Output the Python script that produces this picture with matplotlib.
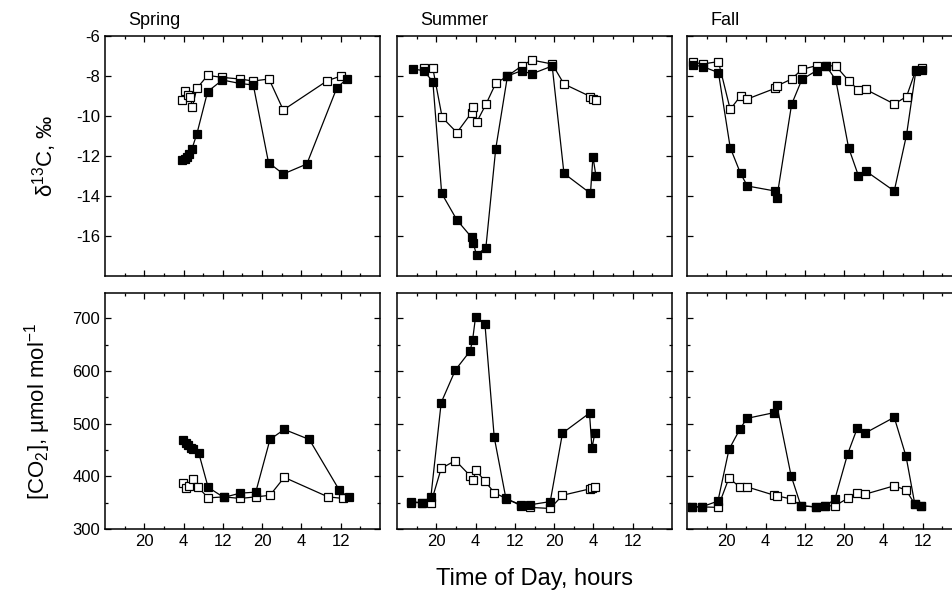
import matplotlib
matplotlib.use("Agg")
import matplotlib.pyplot as plt
from matplotlib.ticker import MultipleLocator, FixedLocator, FuncFormatter

plt.rcParams["font.family"] = ["Liberation Sans", "DejaVu Sans"]
plt.rcParams["mathtext.default"] = "regular"
plt.rcParams["axes.unicode_minus"] = False

# hours counted from midnight of day 0 (20 = 20:00 day 0, 28 = 4:00 day 1, ...)
seasons = ["Spring", "Summer", "Fall"]

# ---- delta 13C, permil ----
spring_d13c_open_t = [27.7, 28.3, 28.8, 29.3, 29.8, 30.7, 32.9, 35.9, 39.4, 42.2, 45.4, 48.3, 57.3, 60.1]
spring_d13c_open = [-9.2, -8.73, -8.95, -9.03, -9.53, -8.62, -7.97, -8.07, -8.15, -8.25, -8.15, -9.7, -8.23, -8.0]
spring_d13c_fill_t = [27.6, 28.2, 28.6, 29.2, 29.7, 30.7, 32.9, 35.9, 39.4, 42.2, 45.3, 48.3, 53.1, 59.2, 61.2]
spring_d13c_fill = [-12.2, -12.15, -12.03, -11.9, -11.65, -10.9, -8.78, -8.2, -8.37, -8.45, -12.33, -12.9, -12.4, -8.6, -8.15]

summer_d13c_open_t = [17.4, 19.3, 21.2, 24.2, 27.2, 27.5, 28.2, 30.1, 32.1, 34.5, 37.4, 39.4, 43.6, 46.0, 51.4, 51.9, 52.5]
summer_d13c_open = [-7.58, -7.62, -10.07, -10.83, -9.83, -9.53, -10.32, -9.42, -8.37, -8.0, -7.5, -7.2, -7.4, -8.4, -9.03, -9.17, -9.2]
summer_d13c_fill_t = [15.2, 17.4, 19.3, 21.1, 24.2, 27.2, 27.5, 28.2, 30.1, 32.1, 34.5, 37.4, 39.4, 43.6, 46.0, 51.4, 51.9, 52.5]
summer_d13c_fill = [-7.65, -7.73, -8.28, -13.87, -15.2, -16.07, -16.33, -16.95, -16.58, -11.65, -8.0, -7.73, -7.9, -7.5, -12.87, -13.87, -12.03, -12.98]

fall_t = [13.3, 15.2, 18.4, 20.8, 22.9, 24.3, 29.9, 30.3, 33.3, 35.4, 38.4, 40.3, 42.3, 44.9, 46.9, 48.4, 54.2, 56.7, 58.6, 59.8]
fall_d13c_open = [-7.32, -7.4, -7.28, -9.67, -9.0, -9.15, -8.62, -8.5, -8.15, -7.67, -7.48, -7.48, -7.5, -8.23, -8.7, -8.67, -9.4, -9.03, -7.7, -7.62]
fall_d13c_fill = [-7.45, -7.53, -7.83, -11.58, -12.87, -13.5, -13.75, -14.08, -9.42, -8.17, -7.73, -7.48, -8.2, -11.58, -12.98, -12.75, -13.75, -10.95, -7.75, -7.7]

# ---- CO2, umol/mol ----
spring_co2_open_t = [27.95, 28.4, 29.1, 30.0, 31.0, 33.0, 36.2, 39.5, 42.7, 45.6, 48.5, 57.4, 60.5]
spring_co2_open = [388, 377, 382, 395, 379, 359, 361, 358, 361, 364, 398, 361, 358]
spring_co2_fill_t = [27.95, 28.4, 29.0, 29.45, 30.0, 31.1, 33.0, 36.2, 39.5, 42.7, 45.6, 48.5, 53.6, 59.7, 61.6]
spring_co2_fill = [468, 464, 459, 453, 452, 444, 379, 360, 368, 370, 470, 489, 470, 374, 360]

summer_co2_t = [14.8, 17.0, 18.9, 21.0, 23.9, 26.9, 27.4, 28.0, 29.9, 31.8, 34.2, 37.3, 39.1, 43.2, 45.7, 51.2, 51.7, 52.3]
summer_co2_open = [350, 350, 349, 415, 430, 401, 393, 412, 391, 369, 358, 344, 341, 339, 364, 376, 377, 379]
summer_co2_fill = [352, 350, 361, 540, 602, 638, 659, 703, 690, 474, 357, 346, 346, 352, 482, 520, 453, 483]

fall_co2_t = [13.0, 15.0, 18.3, 20.55, 22.8, 24.2, 29.8, 30.3, 33.2, 35.2, 38.2, 40.1, 42.1, 44.7, 46.7, 48.25, 54.2, 56.6, 58.4, 59.6]
fall_co2_open = [342, 342, 341, 397, 379, 380, 364, 363, 357, 344, 342, 344, 344, 358, 369, 366, 382, 374, 347, 344]
fall_co2_fill = [342, 342, 353, 451, 490, 510, 521, 535, 401, 344, 342, 344, 356, 442, 492, 482, 512, 438, 347, 344]

top_data = [
    (spring_d13c_open_t, spring_d13c_open, spring_d13c_fill_t, spring_d13c_fill),
    (summer_d13c_open_t, summer_d13c_open, summer_d13c_fill_t, summer_d13c_fill),
    (fall_t, fall_d13c_open, fall_t, fall_d13c_fill),
]
bottom_data = [
    (spring_co2_open_t, spring_co2_open, spring_co2_fill_t, spring_co2_fill),
    (summer_co2_t, summer_co2_open, summer_co2_t, summer_co2_fill),
    (fall_co2_t, fall_co2_open, fall_co2_t, fall_co2_fill),
]

W, H = 953, 596
fig = plt.figure(figsize=(W / 100, H / 100), dpi=100)

lefts = [105, 397, 687]
pw = 275
rows = [(36, 276), (293, 529)]


def hour_fmt(x, pos):
    return "%d" % (int(round(x)) % 24)


def style(ax, bottom_row, first_col):
    ax.set_xlim(12, 68)
    ax.xaxis.set_major_locator(FixedLocator([20, 28, 36, 44, 52, 60]))
    ax.xaxis.set_minor_locator(FixedLocator([16, 24, 32, 40, 48, 56, 64]))
    ax.xaxis.set_major_formatter(FuncFormatter(hour_fmt))
    ax.tick_params(which="both", direction="in", top=True, right=True, width=0.9)
    ax.tick_params(which="major", length=4, labelsize=12)
    ax.tick_params(which="minor", length=2.5)
    if not bottom_row:
        ax.tick_params(labelbottom=False)
    if not first_col:
        ax.tick_params(labelleft=False)
    for s in ax.spines.values():
        s.set_linewidth(1.1)


mk = dict(marker="s", markersize=5.5, color="k", linewidth=0.9, markeredgewidth=0.9)

for r, (data, (ytop, ybot)) in enumerate(zip([top_data, bottom_data], rows)):
    for c in range(3):
        ax = fig.add_axes([lefts[c] / W, (H - ybot) / H, pw / W, (ybot - ytop) / H])
        to, yo, tf, yf = data[c]
        ax.plot(to, yo, markerfacecolor="white", markeredgecolor="k", **mk)
        ax.plot(tf, yf, markerfacecolor="k", markeredgecolor="k", **mk)
        if r == 0:
            ax.set_ylim(-18, -6)
            ax.yaxis.set_major_locator(FixedLocator([-6, -8, -10, -12, -14, -16]))
            ax.text(0.085, 1.03, seasons[c], transform=ax.transAxes,
                    fontsize=13, ha="left", va="bottom")
            if c == 0:
                ax.set_ylabel("δ$^{13}$C, ‰", fontsize=16, labelpad=12)
        else:
            ax.set_ylim(300, 748)
            ax.yaxis.set_major_locator(MultipleLocator(100))
            ax.yaxis.set_minor_locator(MultipleLocator(50))
            if c == 0:
                ax.set_ylabel("[CO$_2$], µmol mol$^{-1}$", fontsize=16, labelpad=14)
            if c == 1:
                ax.set_xlabel("Time of Day, hours", fontsize=17, labelpad=14)
        style(ax, r == 1, c == 0)

fig.savefig("out.png", dpi=100)
